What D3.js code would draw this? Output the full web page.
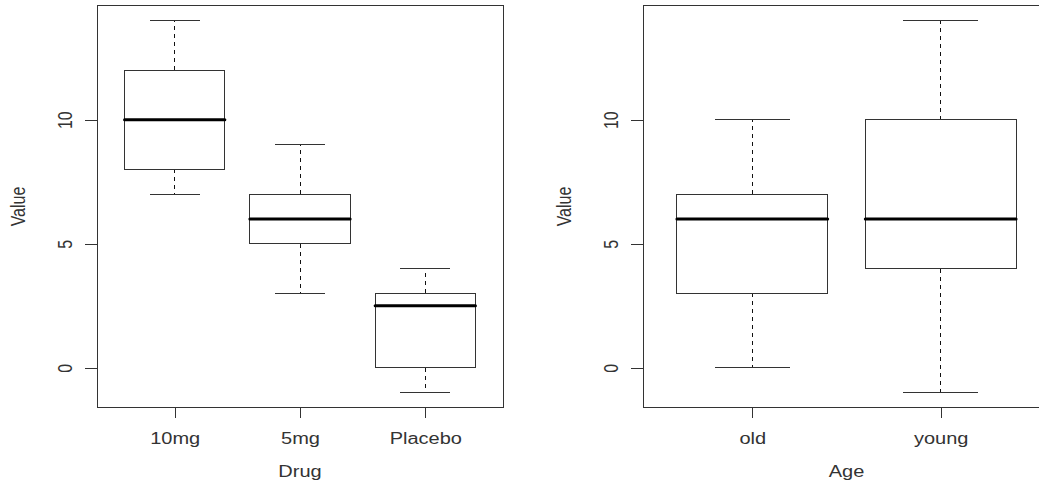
<!DOCTYPE html>
<html>
<head>
<meta charset="utf-8">
<script src="https://cdn.jsdelivr.net/npm/d3@7"></script>
<style>
  body { margin: 0; background: #fff; overflow: hidden; }
  svg { display: block; }
  text { font-family: "Liberation Sans", Arial, sans-serif; font-size: 16px; fill: #333; }
  line, rect { shape-rendering: crispEdges; }
</style>
</head>
<body>
<div id="chart"></div>
<script>
// data (five-number summaries: min, q1, median, q3, max)
const drugCategories = ["10mg", "5mg", "Placebo"];
const drugMin = [7, 3, -1];
const drugQ1 = [8, 5, 0];
const drugMedian = [10, 6, 2.5];
const drugQ3 = [12, 7, 3];
const drugMax = [14, 9, 4];

const ageCategories = ["old", "young"];
const ageMin = [0, -1];
const ageQ1 = [3, 4];
const ageMedian = [6, 6];
const ageQ3 = [7, 10];
const ageMax = [10, 14];

const yTicks = [0, 5, 10];

const W = 1039, H = 483;
const svg = d3.select("#chart").append("svg")
  .attr("width", W)
  .attr("height", H);

// R-style 4% padding around the data range
function padded(lo, hi) {
  const d = (hi - lo) * 0.04;
  return [lo - d, hi + d];
}

function boxplot(opts) {
  const n = opts.categories.length;
  const top = 5.5, bottom = 407.5;

  const x = d3.scaleLinear()
    .domain(padded(0.5, n + 0.5))
    .range([opts.left, opts.right]);

  const yLo = d3.min(opts.min), yHi = d3.max(opts.max);
  const y = d3.scaleLinear()
    .domain(padded(yLo, yHi))
    .range([bottom, top]);

  const g = svg.append("g");
  const stroke = "#333";

  const stats = opts.categories.map((c, i) => ({
    pos: i + 1, min: opts.min[i], q1: opts.q1[i], med: opts.median[i], q3: opts.q3[i], max: opts.max[i]
  }));

  const box = g.selectAll(".box")
    .data(stats)
    .enter().append("g")
      .attr("class", "box");

  // whiskers
  box.append("line")
    .attr("x1", d => x(d.pos)).attr("x2", d => x(d.pos))
    .attr("y1", d => y(d.q3)).attr("y2", d => y(d.max))
    .attr("stroke", "#111").attr("stroke-dasharray", "4,4");
  box.append("line")
    .attr("x1", d => x(d.pos)).attr("x2", d => x(d.pos))
    .attr("y1", d => y(d.q1)).attr("y2", d => y(d.min))
    .attr("stroke", "#111").attr("stroke-dasharray", "4,4");

  // staples
  box.append("line")
    .attr("x1", d => x(d.pos - 0.2)).attr("x2", d => x(d.pos + 0.2))
    .attr("y1", d => y(d.max)).attr("y2", d => y(d.max))
    .attr("stroke", stroke);
  box.append("line")
    .attr("x1", d => x(d.pos - 0.2)).attr("x2", d => x(d.pos + 0.2))
    .attr("y1", d => y(d.min)).attr("y2", d => y(d.min))
    .attr("stroke", stroke);

  // boxes
  box.append("rect")
    .attr("x", d => x(d.pos - 0.4))
    .attr("width", d => x(d.pos + 0.4) - x(d.pos - 0.4))
    .attr("y", d => y(d.q3))
    .attr("height", d => y(d.q1) - y(d.q3))
    .attr("fill", "none")
    .attr("stroke", stroke);

  // medians
  box.append("line")
    .attr("x1", d => x(d.pos - 0.4)).attr("x2", d => x(d.pos + 0.4))
    .attr("y1", d => y(d.med)).attr("y2", d => y(d.med))
    .attr("stroke", "#000").attr("stroke-width", 3)
    .attr("stroke-linecap", "round")
    .style("shape-rendering", "auto");

  // frame
  g.append("rect")
    .attr("x", opts.left).attr("y", top)
    .attr("width", opts.right - opts.left)
    .attr("height", bottom - top)
    .attr("fill", "none")
    .attr("stroke", stroke);

  // y axis
  const ya = g.append("g")
    .attr("transform", "translate(" + opts.left + ",0)")
    .call(d3.axisLeft(y).tickValues(yTicks).tickSize(12).tickFormat(d3.format("d")));
  ya.select(".domain").remove();
  ya.selectAll(".tick line").attr("stroke", stroke);
  ya.selectAll(".tick text")
    .attr("x", null).attr("dy", null)
    .attr("text-anchor", "middle")
    .attr("transform", "translate(-25,0) scale(1.25,1) rotate(-90)")
    .attr("fill", "#333");

  // x axis
  const xa = g.append("g")
    .attr("transform", "translate(0," + bottom + ")")
    .call(d3.axisBottom(x)
      .tickValues(d3.range(1, n + 1))
      .tickSize(10)
      .tickFormat(d => opts.categories[d - 1]));
  xa.select(".domain").remove();
  xa.selectAll(".tick line").attr("stroke", stroke);
  xa.selectAll(".tick text")
    .attr("y", null).attr("dy", null)
    .attr("text-anchor", "middle")
    .attr("transform", "translate(0,36) scale(1.25,1)")
    .attr("fill", "#333");

  // axis titles
  g.append("text")
    .attr("text-anchor", "middle")
    .attr("transform", "translate(" + ((opts.left + opts.right) / 2) + "," + (bottom + 69) + ") scale(1.25,1)")
    .text(opts.xTitle);
  g.append("text")
    .attr("text-anchor", "middle")
    .attr("transform", "translate(" + (opts.left - 72) + "," + ((top + bottom) / 2) + ") scale(1.25,1) rotate(-90)")
    .text("Value");
}

boxplot({
  categories: drugCategories, min: drugMin, q1: drugQ1, median: drugMedian, q3: drugQ3, max: drugMax,
  left: 97, right: 503, xTitle: "Drug"
});

boxplot({
  categories: ageCategories, min: ageMin, q1: ageQ1, median: ageMedian, q3: ageQ3, max: ageMax,
  left: 643, right: 1050, xTitle: "Age"
});
</script>
</body>
</html>
